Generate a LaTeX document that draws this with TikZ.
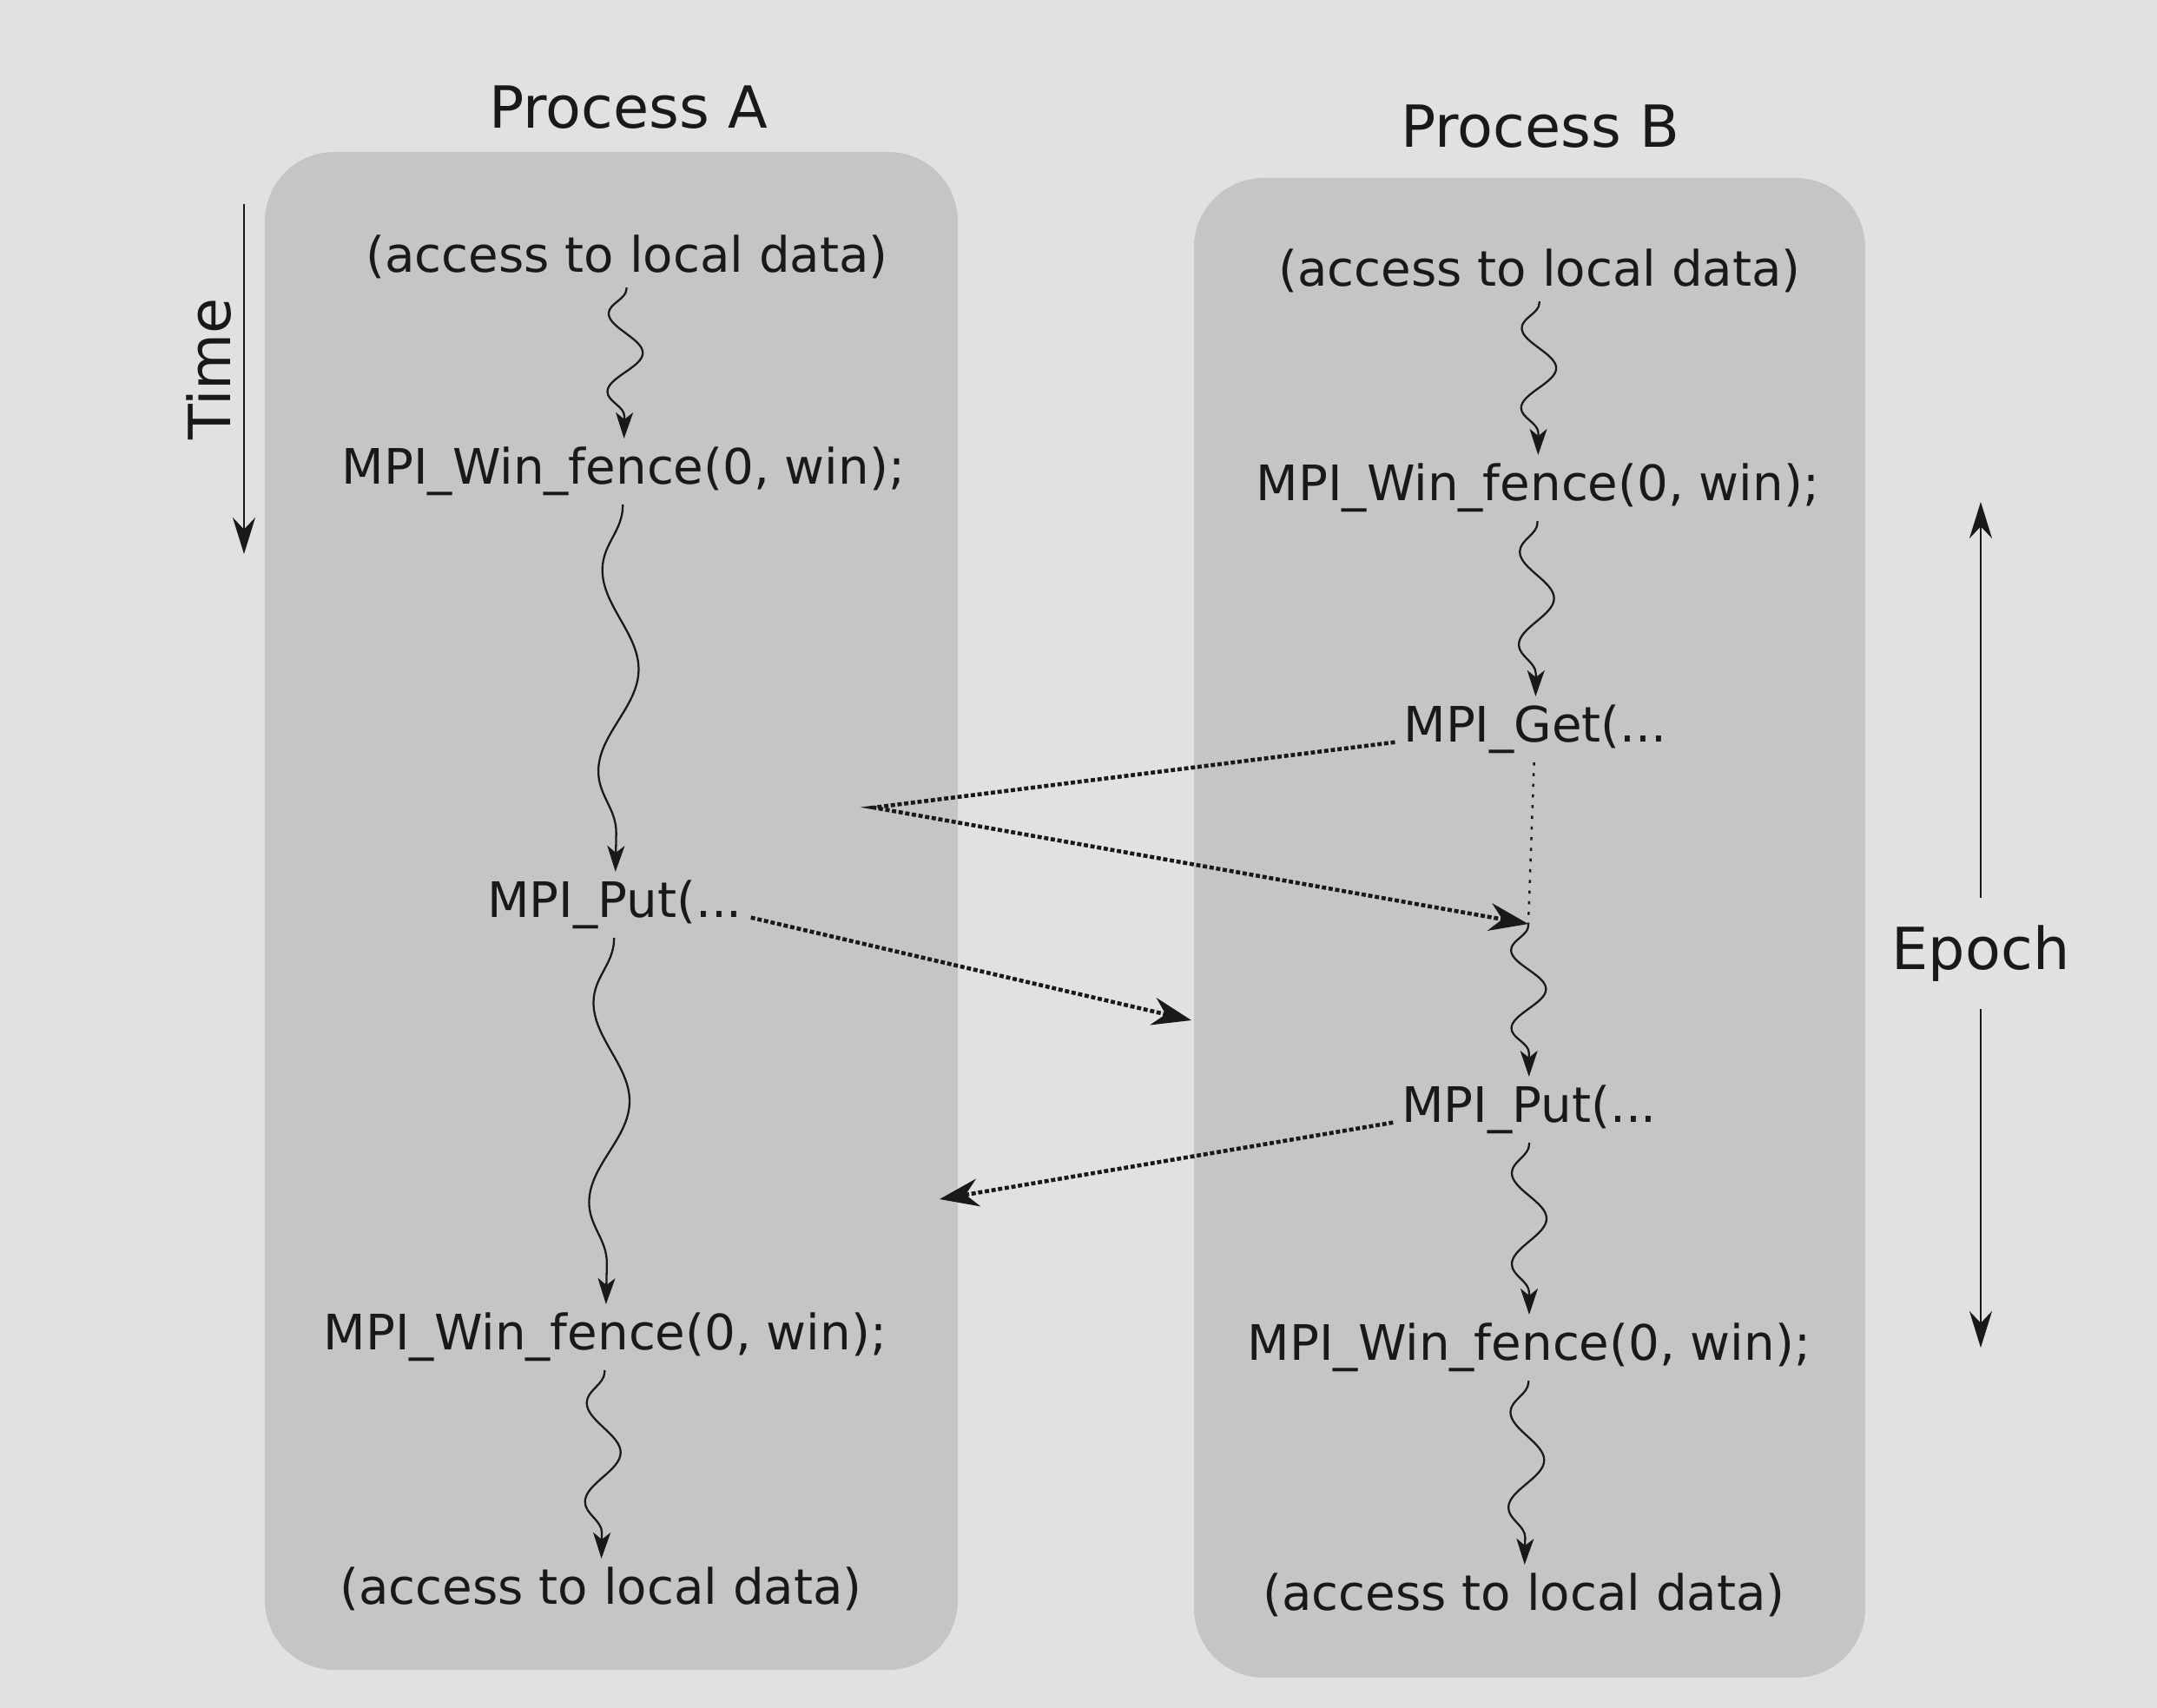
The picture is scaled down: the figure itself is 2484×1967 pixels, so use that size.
\documentclass[tikz,border=0pt]{standalone}
\usepackage{fontspec}
\setmainfont{DejaVu Sans}
\usetikzlibrary{arrows.meta,decorations.pathmorphing}
\definecolor{pagebg}{RGB}{224,226,225}
\definecolor{boxbg}{RGB}{196,198,197}
\definecolor{ink}{RGB}{25,25,25}
\begin{document}
\begin{tikzpicture}[x=0.01cm,y=-0.01cm,
  lbl/.style={font=\fontsize{16}{19}\selectfont, text=ink, inner sep=0pt, outer sep=0.1cm},
  ttl/.style={font=\fontsize{19}{23}\selectfont, text=ink, inner sep=0pt},
  proc/.style={fill=boxbg, draw=none, rounded corners=0.8cm},
  wave/.style 2 args={draw=ink, line width=0.65pt, -{Stealth[length=0.3cm,width=0.2cm,inset=0.08cm]},
     decorate, decoration={snake, mirror, amplitude=#2, segment length=#1, post length=0.12cm, pre length=0.02cm}},
  msg/.style={draw=ink, line width=1.3pt, dash pattern=on 1.4pt off 0.8pt, -{Stealth[length=0.45cm,width=0.32cm]}},
  axisarrow/.style={draw=ink, line width=0.65pt, -{Stealth[length=0.42cm,width=0.26cm]}}
]
\fill[pagebg] (0,0) rectangle (2484,1967);
\useasboundingbox (0,0) rectangle (2484,1967);

% process boxes
\path[proc] (305,175) rectangle (1103,1923);
\path[proc] (1375,205) rectangle (2148,1932);

% titles
\node[ttl] (pA) at (724,124) {Process A};
\node[ttl] (pB) at (1774,146) {Process B};

% process A
\node[lbl] (a1) at (722,296) {(access to local data)};
\node[lbl] (a2) at (718,543) {MPI\_Win\_fence(0, win);};
\node[lbl] (a3) at (708,1042) {MPI\_Put(...};
\node[lbl] (a4) at (697,1540) {MPI\_Win\_fence(0, win);};
\node[lbl] (a5) at (692,1830) {(access to local data)};

% process B
\node[lbl] (b1) at (1773,312) {(access to local data)};
\node[lbl] (b2) at (1771,562) {MPI\_Win\_fence(0, win);};
\node[lbl] (b3) at (1768,840) {MPI\_Get(...};
\node[lbl] (b4) at (1761,1278) {MPI\_Put(...};
\node[lbl] (b5) at (1761,1552) {MPI\_Win\_fence(0, win);};
\node[lbl] (b6) at (1755,1837) {(access to local data)};

% wavy arrows A
\draw[wave={0.9cm}{0.2cm}] (a1) -- (a2);
\draw[wave={2.32cm}{0.22cm}] (a2) -- (a3);
\draw[wave={2.3cm}{0.22cm}] (a3) -- (a4);
\draw[wave={1.14cm}{0.2cm}] (a4) -- (a5);

% wavy arrows B
\coordinate (bw) at (1760,1064);
\draw[wave={0.92cm}{0.2cm}] (b1) -- (b2);
\draw[wave={1.07cm}{0.2cm}] (b2) -- (b3);
\draw[draw=ink, line width=0.7pt, dash pattern=on 1pt off 2.5pt] (b3) -- (bw);
\draw[wave={0.9cm}{0.2cm}] (bw) -- (b4);
\draw[wave={1.05cm}{0.2cm}] (b4) -- (b5);
\draw[wave={1.1cm}{0.2cm}] (b5) -- (b6);

% messages
\coordinate (vx) at (1006,930);
\coordinate (pa) at (1372,1175);
\coordinate (pb) at (1082,1381);
\draw[msg] (b3.base west) -- (vx) -- (bw);
\draw[msg] (a3.base east) -- (pa);
\draw[msg] (b4.base west) -- (pb);

% time axis
\node[ttl, rotate=90] (time) at (241,425) {Time};
\coordinate (t1) at (281,235);
\coordinate (t2) at (281,638);
\draw[axisarrow] (t1) -- (t2);

% epoch axis
\node[ttl, outer sep=0.32cm] (ep) at (2281,1098) {Epoch};
\coordinate (e1) at (2281,578);
\coordinate (e2) at (2281,1552);
\draw[axisarrow] (ep) -- (e1);
\draw[axisarrow] (ep) -- (e2);
\end{tikzpicture}
\end{document}
